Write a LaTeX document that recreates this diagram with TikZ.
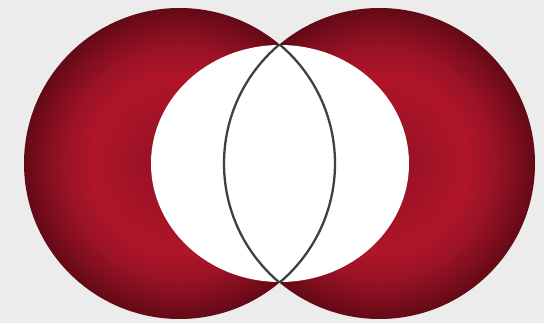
\documentclass[tikz,border=0pt]{standalone}
\usepackage{tikz}
\usetikzlibrary{positioning, shapes.geometric}

\definecolor{bgGray}{HTML}{ECECEC}
\definecolor{ballCore}{HTML}{8A1020}
\definecolor{ballInner}{HTML}{9C1226}
\definecolor{ballBright}{HTML}{B01529}
\definecolor{ballMid}{HTML}{9A1226}
\definecolor{ballEdge}{HTML}{7A0D1C}
\definecolor{ballDark}{HTML}{620A16}
\definecolor{lensGray}{HTML}{404040}

% bright ring, dark rim
\pgfdeclareradialshading{ballshade}{\pgfpoint{0bp}{0bp}}{color(0bp)=(ballCore); color(5bp)=(ballInner); color(14bp)=(ballBright); color(18.5bp)=(ballMid); color(22.5bp)=(ballEdge); color(25bp)=(ballDark); color(50bp)=(ballDark)}

\begin{document}
\begin{tikzpicture}[
        x=1pt, y=-1pt,
        ball/.style={circle, shading=ballshade, minimum size=311pt, inner sep=0pt},
        hole/.style={ellipse, fill=white, minimum width=258pt, minimum height=237pt, inner sep=0pt},
        lens/.style={draw=lensGray, line width=2.3pt}
    ]
        % Background
        \fill[bgGray] (0, 0) rectangle (544, 323);
        \useasboundingbox (0, 0) rectangle (544, 323);

        % Two shaded balls
        \node[ball] (left_ball) at (179.5, 163.5) {};
        \node[ball] (right_ball) at (379.5, 163.5) {};

        % White ellipse in the middle
        \node[hole] (hole) at (280, 163.5) {};

        % Lens: overlap of the two balls
        \begin{scope}
            \clip (left_ball.center) circle (155.5pt);
            \draw[lens] (right_ball.center) circle (155.5pt);
        \end{scope}
        \begin{scope}
            \clip (right_ball.center) circle (155.5pt);
            \draw[lens] (left_ball.center) circle (155.5pt);
        \end{scope}
    \end{tikzpicture}
\end{document}
